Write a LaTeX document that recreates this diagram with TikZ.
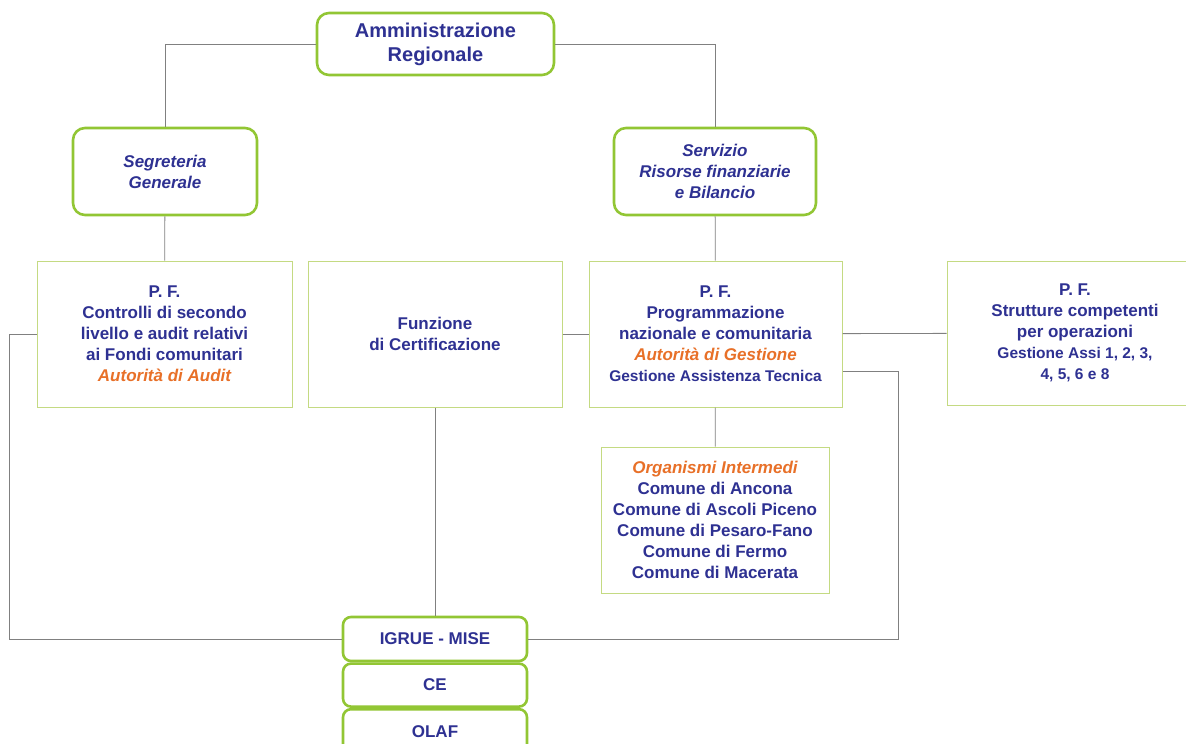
\documentclass[tikz,border=0pt]{standalone}
\usepackage{fontspec}
\setmainfont{Liberation Sans}
\usetikzlibrary{positioning,calc}
\definecolor{navy}{RGB}{46,49,146}
\definecolor{aorange}{RGB}{232,112,40}
\definecolor{lime}{RGB}{146,198,52}
\definecolor{palelime}{RGB}{196,218,130}
\definecolor{linegrey}{RGB}{128,128,128}
\newcommand{\ag}[1]{{\color{aorange}\itshape #1}}
\newcommand{\smalltxt}{\fontsize{15.5}{19}\selectfont}
\begin{document}
\begin{tikzpicture}
	[x=1pt,y=-1pt,every node/.style={text=navy,align=center,inner sep=0pt,
		font=\bfseries\fontsize{17}{21}\selectfont},
	ente/.style={draw=lime,line width=2.6pt,rounded corners=12pt,fill=white},
	ext/.style={draw=lime,line width=2.6pt,rounded corners=8pt,fill=white,
		minimum width=184pt},
	pf/.style={draw=palelime,line width=1pt,fill=white},
	link/.style={draw=linegrey,line width=0.8pt}]
	\useasboundingbox (0,0) rectangle (1186,744);
	\node[ente,minimum width=237pt,minimum height=62pt,
	font=\bfseries\fontsize{20}{24}\selectfont] (amm) at (435.5,44)
	{Amministrazione\\Regionale};
	\node[ente,minimum width=184pt,minimum height=87pt] (seg) at (165,171.5)
	{\itshape Segreteria\\\itshape Generale};
	\node[ente,minimum width=202pt,minimum height=87pt] (serv) at (715,171.5)
	{\itshape Servizio\\\itshape Risorse finanziarie\\\itshape e Bilancio};
	\node[pf,minimum width=255pt,minimum height=146pt] (audit) at (164.5,334)
	{P. F.\\Controlli di secondo\\livello e audit relativi\\ai Fondi comunitari\\
		\ag{Autorità di Audit}};
	\node[pf,minimum width=254pt,minimum height=146pt] (cert) at (435,334)
	{Funzione\\di Certificazione};
	\node[pf,minimum width=253pt,minimum height=146pt] (prog) at (715.5,334)
	{P. F.\\Programmazione\\nazionale e comunitaria\\\ag{Autorità di Gestione}\\
		\smalltxt Gestione Assistenza Tecnica};
	\node[pf,minimum width=256pt,minimum height=144pt] (strut) at (1075,333)
	{P. F.\\Strutture competenti\\per operazioni\\
		\smalltxt Gestione Assi 1, 2, 3,\\\smalltxt 4, 5, 6 e 8};
	\node[pf,minimum width=228pt,minimum height=146pt] (inter) at (715,520)
	{\ag{Organismi Intermedi}\\Comune di Ancona\\Comune di Ascoli Piceno\\
		Comune di Pesaro-Fano\\Comune di Fermo\\Comune di Macerata};
	\node[ext,minimum height=44pt] (igrue) at (435,639) {IGRUE - MISE};
	\node[ext,minimum height=43pt,below=0pt of igrue] (ce) {CE};
	\node[ext,minimum height=44pt,below=0pt of ce] (olaf) {OLAF};
	% connectors
	\draw[link] (amm.west) -| (seg.north);
	\draw[link] (amm.east) -| (serv.north);
	\draw[link] (seg) -- (audit);
	\draw[link] (serv) -- (prog);
	\draw[link] (cert) -- (prog);
	\draw[link] (prog) -- (strut);
	\draw[link] (prog) -- (inter);
	\draw[link] (cert) -- (igrue);
	\draw[link] (audit.west) -- ++(-27,0) |- (igrue.west);
	\draw[link] ([yshift=-37pt]prog.east) -- ++(56,0) |- (igrue.east);
\end{tikzpicture}
\end{document}
